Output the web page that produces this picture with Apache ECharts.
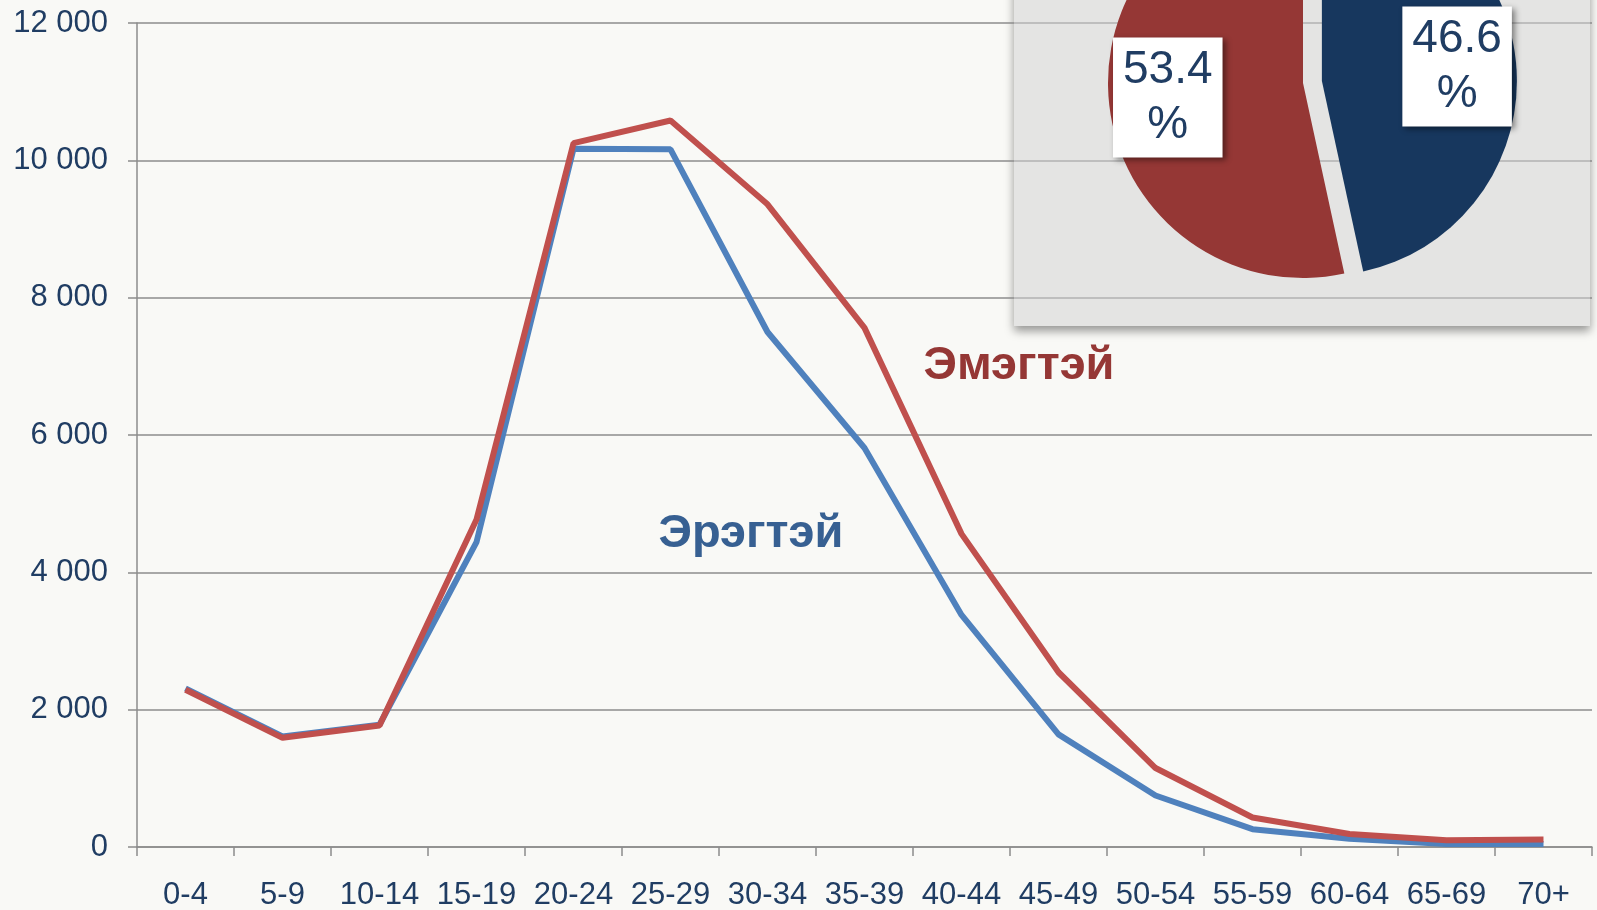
<!DOCTYPE html>
<html>
<head>
	<meta charset="utf-8" />
	<script src="https://cdn.jsdelivr.net/npm/echarts@6/dist/echarts.min.js"></script>
	<style>
		html, body { margin: 0; padding: 0; background: #f9f9f6; }
		#chart { width: 1597px; height: 910px; }
	</style>
</head>
<body>
<div id="chart"></div>
<script type="text/javascript">
	// age groups and population by sex
	var ageGroups = ['0-4','5-9','10-14','15-19','20-24','25-29','30-34','35-39','40-44','45-49','50-54','55-59','60-64','65-69','70+'];
	var male = [2310, 1610, 1780, 4440, 10170, 10160, 7500, 5810, 3380, 1640, 750, 260, 120, 45, 45];
	var female = [2290, 1590, 1770, 4770, 10250, 10580, 9360, 7560, 4560, 2545, 1150, 430, 190, 100, 110];
	// pie shares, %
	var shareNames = ['Эрэгтэй', 'Эмэгтэй'];
	var shares = [46.6, 53.4];

	var textBlue = '#203d63';
	var gridGray = '#8c8c8c';
	var pieCenter = [1303, 83];

	function pieData(colors) {
		return shares.map(function (v, i) {
			return { name: shareNames[i], value: v, selected: i === 0, itemStyle: { color: colors[i] } };
		});
	}

	var myChart = echarts.init(document.getElementById('chart'));
	var option = {
		backgroundColor: '#f9f9f6',
		animation: false,
		textStyle: { fontFamily: 'Liberation Sans, Arial, sans-serif' },
		grid: { left: 137, right: 5, top: 23, bottom: 63, containLabel: false, outerBoundsMode: 'none' },
		xAxis: {
			type: 'category',
			data: ageGroups,
			boundaryGap: true,
			axisLine: { lineStyle: { color: gridGray, width: 1.5 } },
			axisTick: { show: true, length: 9, alignWithLabel: false, lineStyle: { color: gridGray, width: 1.5 } },
			axisLabel: { color: textBlue, fontSize: 31, margin: 33, interval: 0 }
		},
		yAxis: {
			type: 'value',
			min: 0,
			max: 12000,
			interval: 2000,
			axisLine: { show: true, lineStyle: { color: gridGray, width: 1.5 } },
			axisTick: { show: true, length: 9, lineStyle: { color: gridGray, width: 1.5 } },
			splitLine: { lineStyle: { color: gridGray, width: 1.5 } },
			axisLabel: {
				color: textBlue, fontSize: 31, margin: 29,
				formatter: function (v) { return String(v).replace(/\B(?=(\d{3})+(?!\d))/g, ' '); }
			}
		},
		graphic: [
			{
				type: 'rect', z: -1, silent: true,
				shape: { x: 1014, y: -20, width: 576, height: 346 },
				style: { fill: '#e0e0de', shadowBlur: 9, shadowOffsetY: 5, shadowColor: 'rgba(0,0,0,0.4)' }
			},
			{
				type: 'rect', z: 1, silent: true,
				shape: { x: 1014, y: -20, width: 576, height: 346 },
				style: { fill: 'rgba(236,236,234,0.4)' }
			},
			{
				type: 'text', z: 5, x: 1019, y: 366,
				style: { text: 'Эмэгтэй', fill: '#953735', font: 'bold 47px Liberation Sans, Arial, sans-serif', align: 'center', verticalAlign: 'middle' }
			},
			{
				type: 'text', z: 5, x: 751, y: 534,
				style: { text: 'Эрэгтэй', fill: '#376092', font: 'bold 47px Liberation Sans, Arial, sans-serif', align: 'center', verticalAlign: 'middle' }
			}
		],
		series: [
			{
				name: 'Эрэгтэй', type: 'line', data: male, symbol: 'none', z: 2,
				lineStyle: { color: '#4f81bd', width: 6 }
			},
			{
				name: 'Эмэгтэй', type: 'line', data: female, symbol: 'none', z: 3,
				lineStyle: { color: '#c0504d', width: 6 }
			},
			{
				type: 'pie', z: 4, silent: true,
				center: pieCenter, radius: 195, startAngle: 90, clockwise: true,
				selectedMode: 'single', selectedOffset: 19,
				label: { show: false }, labelLine: { show: false },
				data: pieData(['#17375e', '#953735'])
			},
			{
				// transparent ring only used to place the percentage boxes
				type: 'pie', z: 5, silent: true,
				center: pieCenter, radius: [71, 195], startAngle: 90, clockwise: true,
				selectedMode: 'single', selectedOffset: 19,
				labelLine: { show: false },
				label: {
					show: true, position: 'inside',
					formatter: function (p) { return p.value.toFixed(1) + '\n%'; },
					color: textBlue, fontSize: 46, lineHeight: 55,
					fontFamily: 'Liberation Sans, Arial, sans-serif',
					backgroundColor: '#ffffff', padding: [5, 10],
					shadowBlur: 6, shadowOffsetX: 3, shadowOffsetY: 3, shadowColor: 'rgba(0,0,0,0.45)'
				},
				data: pieData(['rgba(0,0,0,0)', 'rgba(0,0,0,0)'])
			}
		]
	};
	myChart.setOption(option);
</script>
</body>
</html>
